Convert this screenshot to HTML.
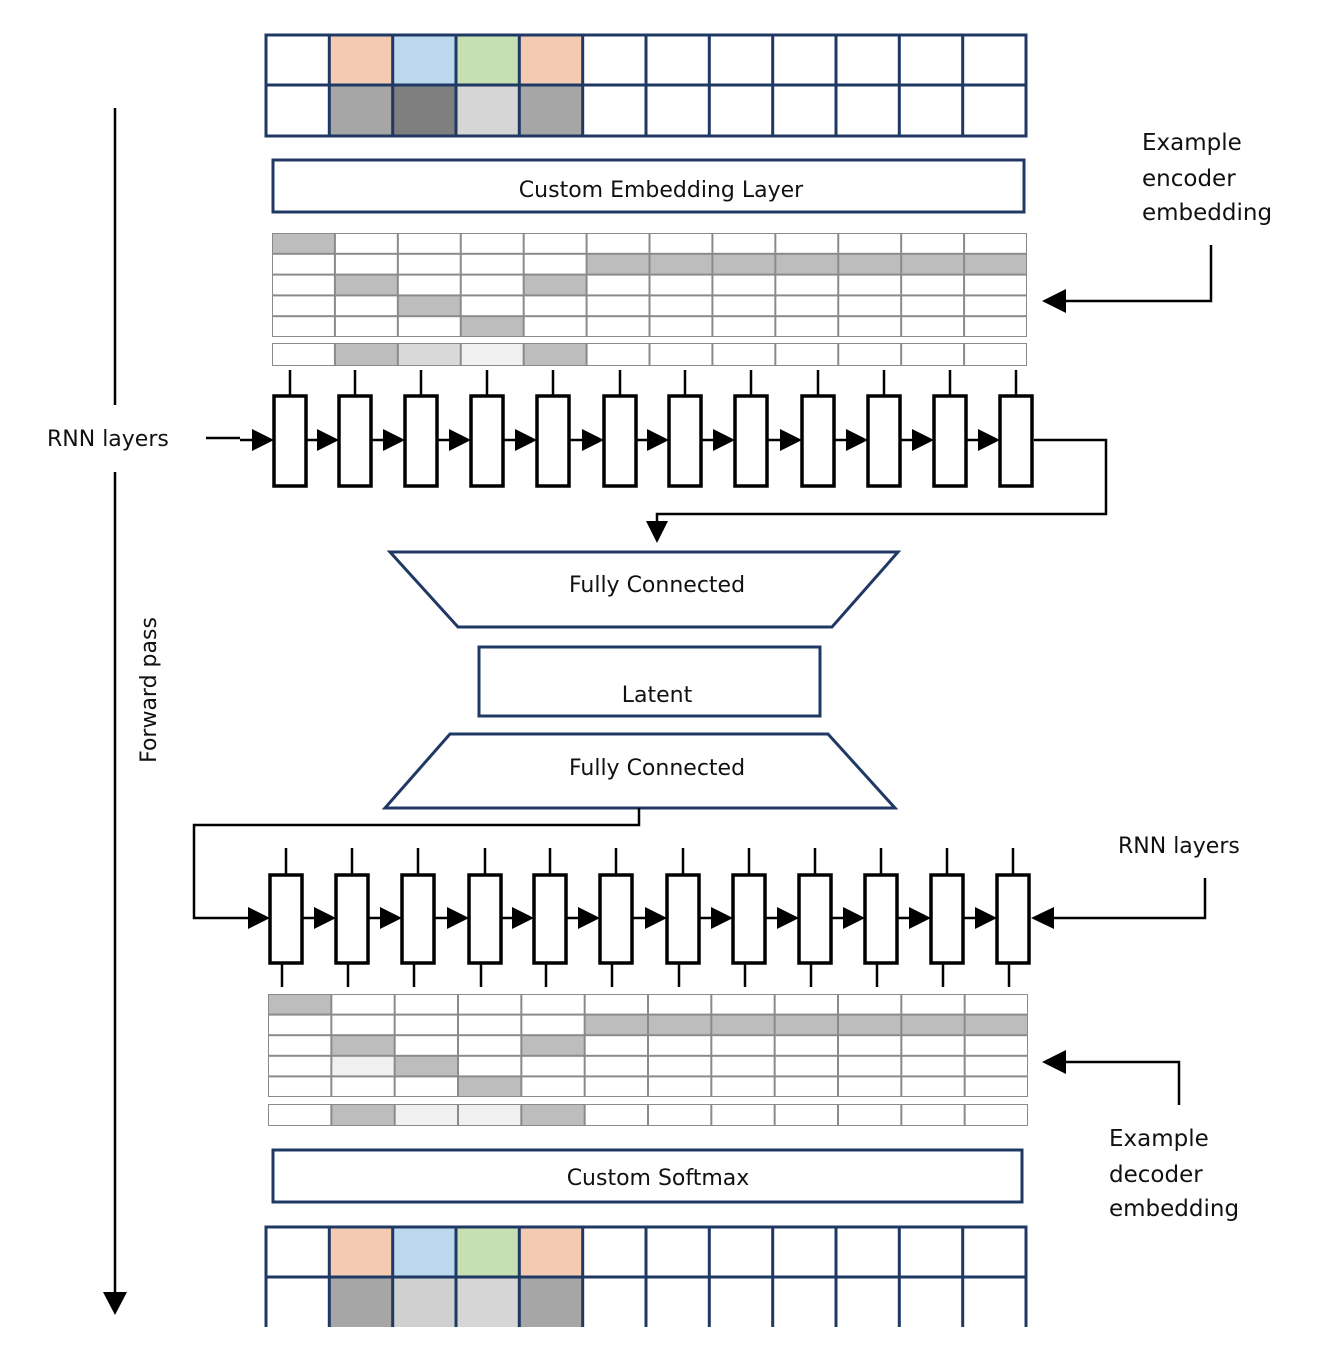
<!DOCTYPE html>
<html><head><meta charset="utf-8"><style>
html,body{margin:0;padding:0;background:#fff;}
svg{display:block;}
text{font-family:"DejaVu Sans","Liberation Sans",sans-serif;fill:#111;}
</style></head><body>
<svg width="1326" height="1350" viewBox="0 0 1326 1350" xmlns="http://www.w3.org/2000/svg">
<defs>
<pattern id="g1" x="272" y="233" width="62.917" height="20.8" patternUnits="userSpaceOnUse"><rect width="62.917" height="20.8" fill="none" stroke="#8a8a8a" stroke-width="2"/></pattern>
<pattern id="g1b" x="272" y="343" width="62.917" height="23" patternUnits="userSpaceOnUse"><rect width="62.917" height="23" fill="none" stroke="#8a8a8a" stroke-width="2"/></pattern>
<pattern id="g2" x="268" y="994" width="63.333" height="20.6" patternUnits="userSpaceOnUse"><rect width="63.333" height="20.6" fill="none" stroke="#8a8a8a" stroke-width="2"/></pattern>
<pattern id="g2b" x="268" y="1104" width="63.333" height="22" patternUnits="userSpaceOnUse"><rect width="63.333" height="22" fill="none" stroke="#8a8a8a" stroke-width="2"/></pattern>
<g id="ec">
<line x1="0" y1="-70" x2="0" y2="-44" stroke="#000" stroke-width="2.5"/>
<line x1="-50" y1="0" x2="-20" y2="0" stroke="#000" stroke-width="2.5"/>
<polygon points="-38,-11 -16,0 -38,11" fill="#000"/>
<rect x="-16" y="-44" width="32" height="90" fill="#fff" stroke="#000" stroke-width="3.5"/>
</g>
<g id="dc">
<line x1="0" y1="-70" x2="0" y2="-43" stroke="#000" stroke-width="2.5"/>
<line x1="-4" y1="45" x2="-4" y2="69" stroke="#000" stroke-width="2.5"/>
<line x1="-50" y1="0" x2="-20" y2="0" stroke="#000" stroke-width="2.5"/>
<polygon points="-38,-11 -16,0 -38,11" fill="#000"/>
<rect x="-16" y="-43" width="32" height="88" fill="#fff" stroke="#000" stroke-width="3.5"/>
</g>
</defs>

<!-- top grid -->
<g>
<rect x="329.3" y="35" width="63.3" height="50" fill="#f4cbb0"/>
<rect x="392.7" y="35" width="63.3" height="50" fill="#bdd7ee"/>
<rect x="456" y="35" width="63.3" height="50" fill="#c6e0b4"/>
<rect x="519.3" y="35" width="63.3" height="50" fill="#f4cbb0"/>
<rect x="329.3" y="85" width="63.3" height="51" fill="#a6a6a6"/>
<rect x="392.7" y="85" width="63.3" height="51" fill="#7f7f7f"/>
<rect x="456" y="85" width="63.3" height="51" fill="#d6d6d6"/>
<rect x="519.3" y="85" width="63.3" height="51" fill="#a6a6a6"/>
<g stroke="#1f3864" stroke-width="3" fill="none">
<rect x="266" y="35" width="760" height="101"/>
<line x1="266" y1="85" x2="1026" y2="85"/>
<path d="M329.3 35V136M392.7 35V136M456 35V136M519.3 35V136M582.7 35V136M646 35V136M709.3 35V136M772.7 35V136M836 35V136M899.3 35V136M962.7 35V136"/>
</g>
</g>

<rect x="273" y="160" width="751" height="52" fill="none" stroke="#1f3864" stroke-width="3"/>
<text x="661" y="197" font-size="22" text-anchor="middle">Custom Embedding Layer</text>

<!-- encoder embedding grid -->
<g fill="#bdbdbd">
<rect x="272" y="233" width="62.9" height="20.8"/>
<rect x="586.6" y="253.8" width="440.4" height="20.8"/>
<rect x="334.9" y="274.6" width="62.9" height="20.8"/>
<rect x="523.7" y="274.6" width="62.9" height="20.8"/>
<rect x="397.8" y="295.4" width="62.9" height="20.8"/>
<rect x="460.8" y="316.2" width="62.9" height="20.8"/>
<rect x="334.9" y="343" width="62.9" height="23"/>
<rect x="397.8" y="343" width="62.9" height="23" fill="#d9d9d9"/>
<rect x="460.8" y="343" width="62.9" height="23" fill="#f0f0f0"/>
<rect x="523.7" y="343" width="62.9" height="23"/>
</g>
<rect x="272" y="233" width="755" height="104" fill="url(#g1)"/>
<rect x="272" y="343" width="755" height="23" fill="url(#g1b)"/>

<!-- encoder RNN -->
<line x1="206" y1="438" x2="240" y2="438" stroke="#000" stroke-width="2.5"/>
<use href="#ec" x="290" y="440"/><use href="#ec" x="355" y="440"/><use href="#ec" x="421" y="440"/>
<use href="#ec" x="487" y="440"/><use href="#ec" x="553" y="440"/><use href="#ec" x="620" y="440"/>
<use href="#ec" x="685" y="440"/><use href="#ec" x="751" y="440"/><use href="#ec" x="818" y="440"/>
<use href="#ec" x="884" y="440"/><use href="#ec" x="950" y="440"/><use href="#ec" x="1016" y="440"/>
<polyline points="1034,440 1106,440 1106,514 657,514 657,525" fill="none" stroke="#000" stroke-width="2.5"/>
<polygon points="646,521 668,521 657,543" fill="#000"/>

<!-- FC / latent -->
<polygon points="390,552 898,552 832,627 458,627" fill="#fff" stroke="#1f3864" stroke-width="3"/>
<text x="657" y="592" font-size="22" text-anchor="middle">Fully Connected</text>
<rect x="479" y="647" width="341" height="69" fill="#fff" stroke="#1f3864" stroke-width="3"/>
<text x="657" y="702" font-size="22" text-anchor="middle">Latent</text>
<polygon points="450,734 828,734 895,808 385,808" fill="#fff" stroke="#1f3864" stroke-width="3"/>
<text x="657" y="775" font-size="22" text-anchor="middle">Fully Connected</text>
<polyline points="639,808 639,825 194,825 194,918 236,918" fill="none" stroke="#000" stroke-width="2.5"/>

<!-- decoder RNN -->
<use href="#dc" x="286" y="918"/><use href="#dc" x="352" y="918"/><use href="#dc" x="418" y="918"/>
<use href="#dc" x="485" y="918"/><use href="#dc" x="550" y="918"/><use href="#dc" x="616" y="918"/>
<use href="#dc" x="683" y="918"/><use href="#dc" x="749" y="918"/><use href="#dc" x="815" y="918"/>
<use href="#dc" x="881" y="918"/><use href="#dc" x="947" y="918"/><use href="#dc" x="1013" y="918"/>
<polyline points="1205,878 1205,918 1045,918" fill="none" stroke="#000" stroke-width="2.5"/>
<polygon points="1031,918 1054,907 1054,929" fill="#000"/>

<!-- decoder embedding grid -->
<g fill="#bdbdbd">
<rect x="268" y="994" width="63.3" height="20.6"/>
<rect x="584.7" y="1014.6" width="443.3" height="20.6"/>
<rect x="331.3" y="1035.2" width="63.3" height="20.6"/>
<rect x="521.3" y="1035.2" width="63.3" height="20.6"/>
<rect x="331.3" y="1055.8" width="63.3" height="20.6" fill="#f0f0f0"/>
<rect x="394.7" y="1055.8" width="63.3" height="20.6"/>
<rect x="458" y="1076.4" width="63.3" height="20.6"/>
<rect x="331.3" y="1104" width="63.3" height="22"/>
<rect x="394.7" y="1104" width="63.3" height="22" fill="#f0f0f0"/>
<rect x="458" y="1104" width="63.3" height="22" fill="#f0f0f0"/>
<rect x="521.3" y="1104" width="63.3" height="22"/>
</g>
<rect x="268" y="994" width="760" height="103" fill="url(#g2)"/>
<rect x="268" y="1104" width="760" height="22" fill="url(#g2b)"/>

<rect x="273" y="1150" width="749" height="52" fill="none" stroke="#1f3864" stroke-width="3"/>
<text x="658" y="1185" font-size="22" text-anchor="middle">Custom Softmax</text>

<!-- bottom grid -->
<g>
<rect x="329.3" y="1227" width="63.3" height="50" fill="#f4cbb0"/>
<rect x="392.7" y="1227" width="63.3" height="50" fill="#bdd7ee"/>
<rect x="456" y="1227" width="63.3" height="50" fill="#c6e0b4"/>
<rect x="519.3" y="1227" width="63.3" height="50" fill="#f4cbb0"/>
<rect x="329.3" y="1277" width="63.3" height="50" fill="#a6a6a6"/>
<rect x="392.7" y="1277" width="63.3" height="50" fill="#d0d0d0"/>
<rect x="456" y="1277" width="63.3" height="50" fill="#d6d6d6"/>
<rect x="519.3" y="1277" width="63.3" height="50" fill="#a6a6a6"/>
<g stroke="#1f3864" stroke-width="3" fill="none">
<path d="M266 1327V1227H1026V1327"/>
<line x1="266" y1="1277" x2="1026" y2="1277"/>
<path d="M329.3 1227V1327M392.7 1227V1327M456 1227V1327M519.3 1227V1327M582.7 1227V1327M646 1227V1327M709.3 1227V1327M772.7 1227V1327M836 1227V1327M899.3 1227V1327M962.7 1227V1327"/>
</g>
</g>

<!-- forward pass -->
<line x1="115" y1="108" x2="115" y2="405" stroke="#000" stroke-width="2.5"/>
<line x1="115" y1="472" x2="115" y2="1295" stroke="#000" stroke-width="2.5"/>
<polygon points="103,1292 127,1292 115,1315" fill="#000"/>
<text x="47" y="446" font-size="22">RNN layers</text>
<text transform="translate(156,690) rotate(-90)" font-size="22" text-anchor="middle">Forward pass</text>

<!-- right labels -->
<text font-size="23"><tspan x="1142" y="150">Example</tspan><tspan x="1142" y="186">encoder</tspan><tspan x="1142" y="220">embedding</tspan></text>
<polyline points="1211,245 1211,301 1060,301" fill="none" stroke="#000" stroke-width="2.5"/>
<polygon points="1042,301 1066,289 1066,313" fill="#000"/>
<text x="1118" y="853" font-size="22">RNN layers</text>
<text font-size="23"><tspan x="1109" y="1146">Example</tspan><tspan x="1109" y="1182">decoder</tspan><tspan x="1109" y="1216">embedding</tspan></text>
<polyline points="1179,1105 1179,1062 1060,1062" fill="none" stroke="#000" stroke-width="2.5"/>
<polygon points="1042,1062 1066,1050 1066,1074" fill="#000"/>
</svg>
</body></html>
